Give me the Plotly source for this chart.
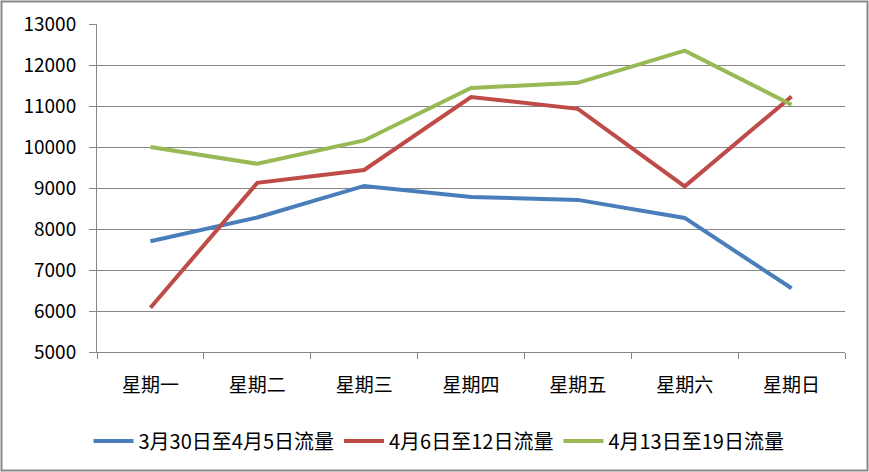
import plotly.graph_objects as go

categories = ["星期一", "星期二", "星期三", "星期四", "星期五", "星期六", "星期日"]
series_names = ["3月30日至4月5日流量", "4月6日至12日流量", "4月13日至19日流量"]
week1 = [7700, 8280, 9050, 8780, 8710, 8270, 6555]
week2 = [6080, 9125, 9440, 11220, 10930, 9040, 11230]
week3 = [10000, 9590, 10160, 11440, 11565, 12350, 11030]
colors = ["#4A7EBB", "#BE4B48", "#98B954"]

W, H = 869, 472
L, R, T, B = 97, 24, 24, 120

fig = go.Figure()
for name, vals, c in zip(series_names, [week1, week2, week3], colors):
    fig.add_trace(go.Scatter(x=categories, y=vals, name=name, mode="lines",
                             line=dict(color=c, width=4)))

pw = W - L - R
ph = H - T - B
def px_x(p):
    return (p - L) / pw
def px_y(p):
    return (H - B - p) / ph

fig.update_layout(
    width=W, height=H,
    margin=dict(l=L, r=R, t=T, b=B, autoexpand=False),
    paper_bgcolor="white", plot_bgcolor="white",
    font=dict(family="Noto Sans CJK SC, Open Sans, sans-serif", size=19, color="black"),
    showlegend=True,
    legend=dict(orientation="h", x=px_x(439), xanchor="center", y=px_y(441), yanchor="middle",
                font=dict(size=20), itemwidth=40, bgcolor="rgba(0,0,0,0)"),
    xaxis=dict(type="category", showgrid=False, showline=True, linecolor="#868686", linewidth=1,
               ticks="outside", ticklen=6, tickcolor="#868686", tickson="boundaries",
               ticklabelstandoff=16, range=[-0.5, 6.5], automargin=False),
    yaxis=dict(range=[5000, 13000], dtick=1000, tickformat="d", showgrid=True, gridcolor="#868686",
               gridwidth=1, showline=True, linecolor="#868686", linewidth=1, ticks="outside",
               ticklen=7, tickcolor="#868686", ticklabelstandoff=9, zeroline=False,
               automargin=False),
    shapes=[dict(type="rect", xref="paper", yref="paper",
                 x0=px_x(1.5), x1=px_x(867.5), y0=px_y(470.5), y1=px_y(1.5),
                 line=dict(color="#898989", width=2), layer="below")],
)

fig.write_html("out.html", config={"displayModeBar": False},
               post_script="document.body.style.margin='0';document.body.style.overflow='hidden';")
